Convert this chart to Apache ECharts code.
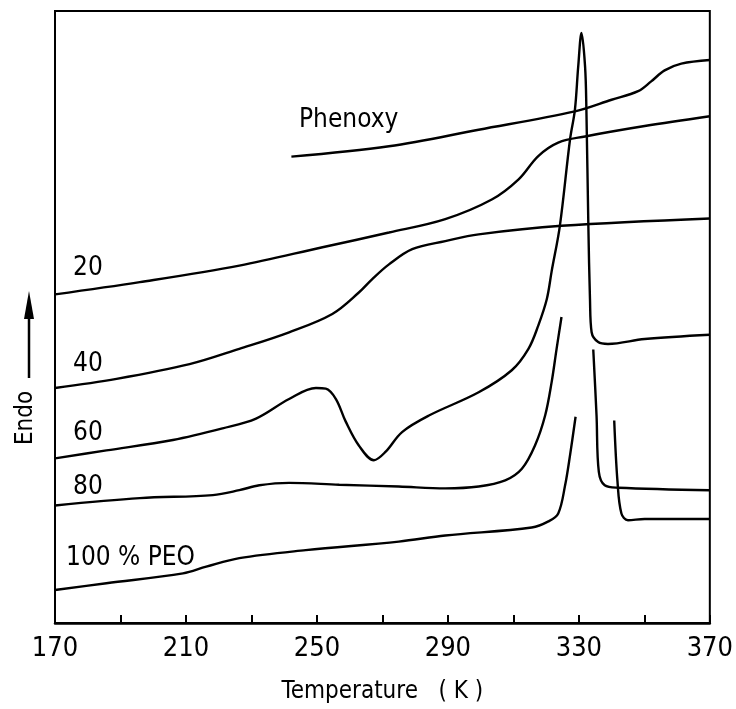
<!DOCTYPE html>
<html>
<head>
<meta charset="utf-8">
<script src="https://cdn.jsdelivr.net/npm/echarts@6/dist/echarts.min.js"></script>
<style>
  html, body { margin: 0; padding: 0; background: #fff; }
  #chart { width: 736px; height: 709px; }
</style>
</head>
<body>
<div id="chart"></div>
<script>
// temperatures (K) and heat flow (arbitrary units, endo up)
const phenoxyK = [242.2, 272.0, 299.4, 328.8, 340.0, 348.1, 352.1, 356.2, 361.3, 370]
const phenoxyV = [76.2, 77.9, 80.6, 83.6, 85.5, 86.9, 88.5, 90.3, 91.4, 92.0]

const peo20K = [170, 195.9, 226.3, 251.7, 272.0, 289.2, 303.4, 311.6, 317.6, 323.7, 331.9, 350.1, 370]
const peo20V = [53.7, 55.7, 58.4, 61.4, 63.8, 66.0, 69.2, 72.5, 76.3, 78.5, 79.5, 81.2, 82.8]

const peo40K = [170, 188.8, 211.1, 226.3, 241.5, 254.7, 262.8, 266.9, 272.0, 279.1, 289.2, 299.4, 324.7, 370]
const peo40V = [38.4, 39.9, 42.3, 44.8, 47.5, 50.5, 54.0, 56.2, 58.6, 61.1, 62.4, 63.5, 64.9, 66.1]

const peo60K = [170, 185.7, 206.0, 221.2, 231.4, 241.5, 249.7, 252.7, 255.8, 258.8, 262.8, 267.4, 271.0, 276.0,
  284.2, 299.4, 309.5, 314.6, 317.6, 320.2, 321.7, 324.2, 327.3, 328.8, 329.8, 330.8, 331.9, 332.3, 332.9,
  333.4, 333.9, 335.9, 338.9, 350.1, 370]
const peo60V = [26.9, 28.2, 29.9, 31.8, 33.4, 36.6, 38.4, 38.3, 36.6, 32.9, 29.0, 26.6, 28.0, 31.2,
  33.9, 37.7, 41.3, 44.8, 48.6, 52.9, 57.5, 64.9, 79.0, 83.9, 90.9, 96.4, 90.9, 83.9, 64.9,
  52.9, 47.5, 45.9, 45.6, 46.4, 47.1]

// 80 % and 100 % PEO traces are broken around the melting peak
const peo80aK = [170, 195.9, 218.2, 226.3, 232.4, 241.5, 256.8, 275.0, 289.2, 299.4, 307.5, 312.6, 316.6, 319.7, 321.7, 323.2, 324.7]
const peo80aV = [19.2, 20.4, 20.9, 21.7, 22.5, 22.9, 22.6, 22.3, 22.0, 22.3, 23.3, 25.2, 29.0, 33.9, 39.4, 44.8, 50.0]
const peo80bK = [334.4, 335.4, 336.1, 337.9, 342.0, 370]
const peo80bV = [44.7, 33.9, 24.7, 22.5, 22.1, 21.7]

const peo100aK = [170, 185.7, 209.1, 216.2, 226.3, 246.6, 275.0, 289.2, 315.6, 320.7, 323.7, 325.8, 327.3, 329.0]
const peo100aV = [5.4, 6.5, 8.1, 9.2, 10.6, 11.9, 13.3, 14.3, 15.6, 16.6, 17.9, 22.5, 27.4, 33.7]
const peo100bK = [340.8, 341.8, 343.0, 345.0, 350.1, 370]
const peo100bV = [33.1, 23.1, 17.9, 16.8, 17.0, 17.0]

const xLabels = [170, 210, 250, 290, 330, 370]

const FONT = 'DejaVu Sans Condensed'

function pairs(xs, ys) {
  return xs.map((x, i) => [x, ys[i]])
}

function curve(name, xs, ys) {
  return {
    name: name,
    type: 'line',
    data: pairs(xs, ys),
    symbol: 'none',
    smooth: 0.35,
    lineStyle: { color: '#000', width: 2.4 },
    silent: true
  }
}

function label(text, x, y) {
  return {
    type: 'text',
    left: x,
    top: y,
    style: { text: text, fontSize: 26, fontFamily: FONT, fill: '#000' }
  }
}

const chart = echarts.init(document.getElementById('chart'))
const option = {
  animation: false,
  backgroundColor: '#fff',
  grid: {
    left: 55,
    right: 24,
    top: 11,
    bottom: 84,
    show: true,
    borderColor: '#000',
    borderWidth: 2
  },
  xAxis: {
    type: 'value',
    min: 170,
    max: 370,
    interval: 20,
    name: 'Temperature   ( K )',
    nameLocation: 'middle',
    nameGap: 57,
    nameTextStyle: { fontSize: 24, fontFamily: FONT, color: '#000' },
    axisLine: { show: true, lineStyle: { color: '#000', width: 2.5 } },
    axisTick: { show: true, inside: true, length: 8, lineStyle: { color: '#000', width: 2 } },
    axisLabel: {
      fontSize: 27,
      fontFamily: FONT,
      color: '#000',
      margin: 12,
      formatter: (v) => (xLabels.indexOf(v) >= 0 ? String(v) : '')
    },
    splitLine: { show: false }
  },
  yAxis: {
    type: 'value',
    min: 0,
    max: 100,
    axisLine: { show: false },
    axisTick: { show: false },
    axisLabel: { show: false },
    splitLine: { show: false }
  },
  series: [
    curve('Phenoxy', phenoxyK, phenoxyV),
    curve('20', peo20K, peo20V),
    curve('40', peo40K, peo40V),
    curve('60', peo60K, peo60V),
    curve('80', peo80aK, peo80aV),
    curve('80', peo80bK, peo80bV),
    curve('100 % PEO', peo100aK, peo100aV),
    curve('100 % PEO', peo100bK, peo100bV)
  ],
  graphic: [
    label('Phenoxy', 299, 107),
    label('20', 73, 255),
    label('40', 73, 351),
    label('60', 73, 420),
    label('80', 73, 474),
    label('100 % PEO', 66, 545),
    {
      type: 'text',
      x: 26,
      y: 418,
      rotation: Math.PI / 2,
      style: {
        text: 'Endo',
        fontSize: 24,
        fontFamily: FONT,
        fill: '#000',
        align: 'center',
        verticalAlign: 'middle'
      }
    },
    {
      type: 'line',
      shape: { x1: 29, y1: 378, x2: 29, y2: 310 },
      style: { stroke: '#000', lineWidth: 2.5 }
    },
    {
      type: 'polygon',
      shape: { points: [[29, 291], [24, 319], [34, 319]] },
      style: { fill: '#000' }
    }
  ]
}
chart.setOption(option)
</script>
</body>
</html>
